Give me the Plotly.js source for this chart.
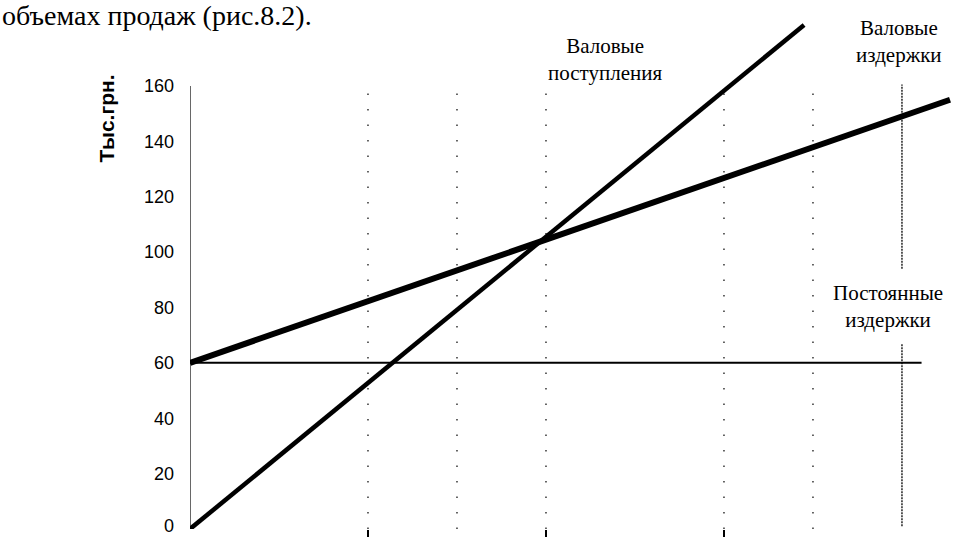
<!DOCTYPE html>
<html>
<head>
<meta charset="utf-8">
<script src="https://cdn.plot.ly/plotly-3.0.1.min.js"></script>
<style>
  html, body { margin: 0; padding: 0; background: #fff; }
  #chart { width: 969px; height: 537px; }
</style>
</head>
<body>
<div id="chart"></div>
<script>
// ---- data ----
const revenueX = [0, 6.9];        // Валовые поступления
const revenueY = [0, 182];
const costX = [0, 8.54];          // Валовые издержки
const costY = [60, 155];
const fixedX = [0, 8.22];         // Постоянные издержки
const fixedY = [60, 60];

const yTickVals = [0, 20, 40, 60, 80, 100, 120, 140, 160];
const yTickText = ['0', '20', '40', '60', '80', '100', '120', '140', '160'];
const xTickVals = [2, 4, 6];
const xGridVals = [2, 3, 4, 6, 7];

const yTitle = 'Тыс.грн.';
const headerText = 'объемах продаж (рис.8.2).';
const labelRevenue = 'Валовые<br>поступления';
const labelCost = 'Валовые<br>издержки';
const labelFixed = 'Постоянные<br>издержки';

// ---- traces ----
const traces = [
  { x: fixedX, y: fixedY, type: 'scatter', mode: 'lines',
    line: { color: '#000', width: 2 }, hoverinfo: 'skip' },
  { x: costX, y: costY, type: 'scatter', mode: 'lines',
    line: { color: '#000', width: 6 }, hoverinfo: 'skip' },
  { x: revenueX, y: revenueY, type: 'scatter', mode: 'lines',
    line: { color: '#000', width: 4.5 }, hoverinfo: 'skip' }
];

// ---- decoration shapes ----
const shapes = [];
xGridVals.forEach(v => shapes.push({
  type: 'line', xref: 'x', yref: 'y', x0: v, x1: v, y0: 0, y1: 160,
  line: { color: '#000', width: 1.2, dash: '1.5px,14px' }, layer: 'below'
}));
// dense dotted line at x = 8 (interrupted by labels)
shapes.push({ type: 'line', xref: 'x', yref: 'y', x0: 8, x1: 8, y0: 94, y1: 160.5,
  line: { color: '#000', width: 1.3, dash: '2px,1px' }, layer: 'below' });
shapes.push({ type: 'line', xref: 'x', yref: 'y', x0: 8, x1: 8, y0: 1, y1: 67,
  line: { color: '#000', width: 1.3, dash: '2px,1px' }, layer: 'below' });
// vertical value axis line
shapes.push({ type: 'line', xref: 'x', yref: 'y', x0: 0, x1: 0, y0: -2.5, y1: 160,
  line: { color: '#000', width: 1.2 }, layer: 'below' });

const serif = '"Liberation Serif", "Times New Roman", Times, serif';
const sans = '"Liberation Sans", Arial, sans-serif';

const layout = {
  width: 969, height: 537,
  margin: { l: 190, r: 9, t: 20, b: 8, pad: 0 },
  paper_bgcolor: '#fff', plot_bgcolor: '#fff',
  showlegend: false,
  xaxis: {
    range: [0, 8.652], showgrid: false, zeroline: false, showline: false,
    tickvals: xTickVals, ticks: 'outside', ticklen: 7, tickwidth: 1.2,
    tickcolor: '#000', showticklabels: false, fixedrange: true
  },
  yaxis: {
    range: [0, 183.8], showgrid: false, zeroline: false, showline: false,
    tickvals: yTickVals.slice(1), ticktext: yTickText.slice(1), ticks: '',
    ticklabelstandoff: 15,
    tickfont: { family: sans, size: 18, color: '#000' }, fixedrange: true
  },
  shapes: shapes,
  annotations: [
    // bottom value label kept inside the picture
    { text: yTickText[0], xref: 'paper', yref: 'paper',
      x: -0.0195, y: -0.0157, xanchor: 'right', yanchor: 'bottom', showarrow: false,
      borderpad: 0, font: { family: sans, size: 18, color: '#000' } },
    { text: headerText, xref: 'paper', yref: 'paper',
      x: -0.247, y: 1.008, xanchor: 'left', yanchor: 'middle', showarrow: false,
      font: { family: serif, size: 28, color: '#000' } },
    { text: yTitle, xref: 'paper', yref: 'paper', x: -0.108, y: 0.806,
      xanchor: 'center', yanchor: 'middle', textangle: -90, showarrow: false,
      font: { family: sans, size: 21, color: '#000', weight: 'bold' } },
    { text: labelRevenue, xref: 'x', yref: 'y', x: 4.66, y: 169.4,
      xanchor: 'center', yanchor: 'middle', showarrow: false,
      font: { family: serif, size: 21, color: '#000' } },
    { text: labelCost, xref: 'x', yref: 'y', x: 7.97, y: 175.9,
      xanchor: 'center', yanchor: 'middle', showarrow: false,
      font: { family: serif, size: 21, color: '#000' } },
    { text: labelFixed, xref: 'x', yref: 'y', x: 7.84, y: 80.2,
      xanchor: 'center', yanchor: 'middle', showarrow: false,
      font: { family: serif, size: 21, color: '#000' } }
  ]
};

Plotly.newPlot('chart', traces, layout, { staticPlot: true, displayModeBar: false });
</script>
</body>
</html>
